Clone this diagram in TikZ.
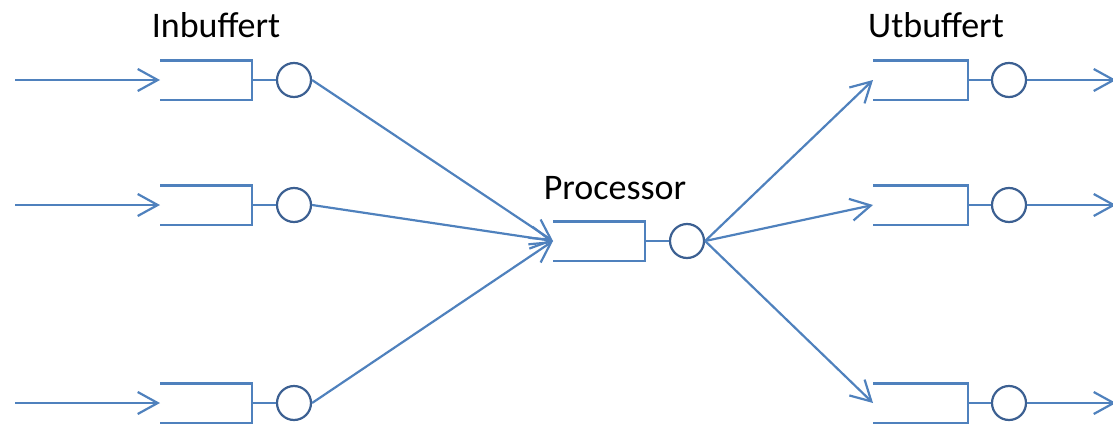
\documentclass[tikz,border=0pt]{standalone}
\usepackage{fontspec}
\setmainfont{Carlito}
\usetikzlibrary{arrows.meta}
\definecolor{lineblue}{RGB}{79,129,189}
\definecolor{ringblue}{RGB}{60,96,146}
\begin{document}
\begin{tikzpicture}[x=0.5pt,y=-0.5pt,>={Straight Barb[length=10pt,width=11pt]}, line width=1.1pt, draw=lineblue,
  buf/.style={minimum width=45pt,minimum height=18.5pt,inner sep=0pt,anchor=west},
  srv/.style={circle,draw=ringblue,minimum size=17pt,inner sep=0pt},
  lbl/.style={font=\fontsize{18}{20}\selectfont,text=black,anchor=base}]
\useasboundingbox (0,0) rectangle (1113,423);
% processor
\node[buf] (pb) at (553,241) {};
\node[srv] (pc) at (687,241) {};
\draw (pb.north west) -| (pb.south east) -- (pb.south west);
\draw (pb.east) -- (pc.west);
% in- and outbuffers
\foreach \i/\y in {1/80,2/205,3/403} {
  \coordinate (src\i) at (15,\y);
  \node[buf] (ib\i) at (160,\y) {};
  \node[srv] (ic\i) at (294,\y) {};
  \draw (ib\i.north west) -| (ib\i.south east) -- (ib\i.south west);
  \draw (ib\i.east) -- (ic\i.west);
  \draw[->] (src\i) -- (ib\i.west);
  \draw[->] (ic\i.east) -- (pb.west);
  \node[buf,minimum width=46.5pt] (ob\i) at (873,\y) {};
  \node[srv] (oc\i) at (1009,\y) {};
  \coordinate (snk\i) at (1116,\y);
  \draw (ob\i.north west) -| (ob\i.south east) -- (ob\i.south west);
  \draw (ob\i.east) -- (oc\i.west);
  \draw[->] (pc.east) -- (ob\i.west);
  \draw[->] (oc\i.east) -- (snk\i);
}
\node[lbl] (inlbl) at (216,37) {Inbuffert};
\node[lbl] (prlbl) at (615,199) {Processor};
\node[lbl] (utlbl) at (936,37) {Utbuffert};
\end{tikzpicture}
\end{document}
